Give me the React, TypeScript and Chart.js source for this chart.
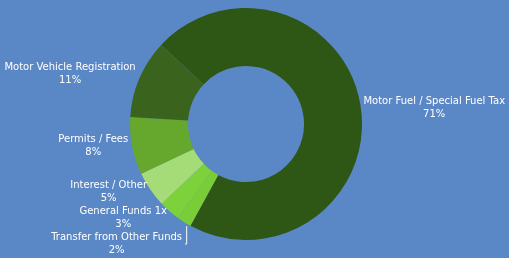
import React, { useEffect, useRef } from "react";
import { Chart, registerables } from "chart.js";

Chart.register(...registerables);

const categories = [
  "Motor Fuel / Special Fuel Tax",
  "Transfer from Other Funds",
  "General Funds 1x",
  "Interest / Other",
  "Permits / Fees",
  "Motor Vehicle Registration",
];
const shares = [71, 2, 3, 5, 8, 11];
const colors = ["#2e5615", "#79cd37", "#7dd23c", "#a5dc78", "#66a82e", "#3a641e"];

const BG = "#5a87c6";

const labelPlugin = {
  id: "outerLabels",
  afterDraw(chart: any) {
    const ctx = chart.ctx;
    const meta = chart.getDatasetMeta(0);
    const font = "10px 'DejaVu Sans', Verdana, sans-serif";
    const lineH = 13;
    const items: any[] = [];
    meta.data.forEach((arc: any, i: number) => {
      const p = arc.getProps(["x", "y", "startAngle", "endAngle", "outerRadius"], true);
      const mid = (p.startAngle + p.endAngle) / 2;
      const right = Math.cos(mid) >= 0;
      const r = p.outerRadius + (right ? 7 : 4);
      const ax = p.x + Math.cos(mid) * r;
      const ay = p.y + Math.sin(mid) * (p.outerRadius + 7);
      items.push({
        i,
        ax,
        ay,
        y: right ? ay + 5 : ay - 1,
        right,
        ex: p.x + Math.cos(mid) * p.outerRadius,
        ey: p.y + Math.sin(mid) * p.outerRadius,
      });
    });
    // resolve overlaps on the left side (push downward)
    const left = items.filter((d) => !d.right).sort((a, b) => a.y - b.y);
    for (let k = 1; k < left.length; k++) {
      if (left[k].y - left[k - 1].y < 26) left[k].y = left[k - 1].y + 26;
    }
    ctx.save();
    ctx.font = font;
    ctx.fillStyle = "#ffffff";
    ctx.textBaseline = "middle";
    items.forEach((d) => {
      const name = categories[d.i];
      const pct = shares[d.i] + "%";
      const w = ctx.measureText(name).width;
      let x: number;
      if (d.right) {
        x = d.ax - 4 + w / 2;
      } else {
        x = d.ax - w / 2;
      }
      ctx.textAlign = "center";
      ctx.fillText(name, x, d.y - lineH / 2 - 1);
      ctx.fillText(pct, x, d.y + lineH / 2 - 1);
      if (!d.right && d.y - d.ay > 10) {
        // leader bracket
        const lx = d.ex + 2;
        const rx = x + w / 2 + 3;
        ctx.strokeStyle = "#ffffff";
        ctx.lineWidth = 1;
        ctx.beginPath();
        ctx.moveTo(lx + 0.5, d.ey + 4);
        ctx.lineTo(lx + 0.5, d.y - 0.5);
        ctx.lineTo(rx, d.y - 0.5);
        ctx.stroke();
      }
    });
    ctx.restore();
  },
};

export default function App() {
  const ref = useRef<HTMLCanvasElement>(null);
  useEffect(() => {
    document.body.style.margin = "0";
    document.body.style.background = BG;
    const chart = new Chart(ref.current!, {
      type: "doughnut",
      data: {
        labels: categories,
        datasets: [
          {
            data: shares,
            backgroundColor: colors,
            borderWidth: 0,
          },
        ],
      },
      options: {
        animation: false,
        responsive: false,
        maintainAspectRatio: false,
        rotation: -47,
        cutout: "50%",
        layout: { padding: { top: 8, bottom: 18, left: 0, right: 17 } },
        plugins: {
          legend: { display: false },
          tooltip: { enabled: false },
        },
      },
      plugins: [labelPlugin],
    });
    return () => chart.destroy();
  }, []);
  return (
    <div style={{ width: 509, height: 258, background: BG, position: "relative" }}>
      <canvas ref={ref} width={509} height={258} />
    </div>
  );
}
